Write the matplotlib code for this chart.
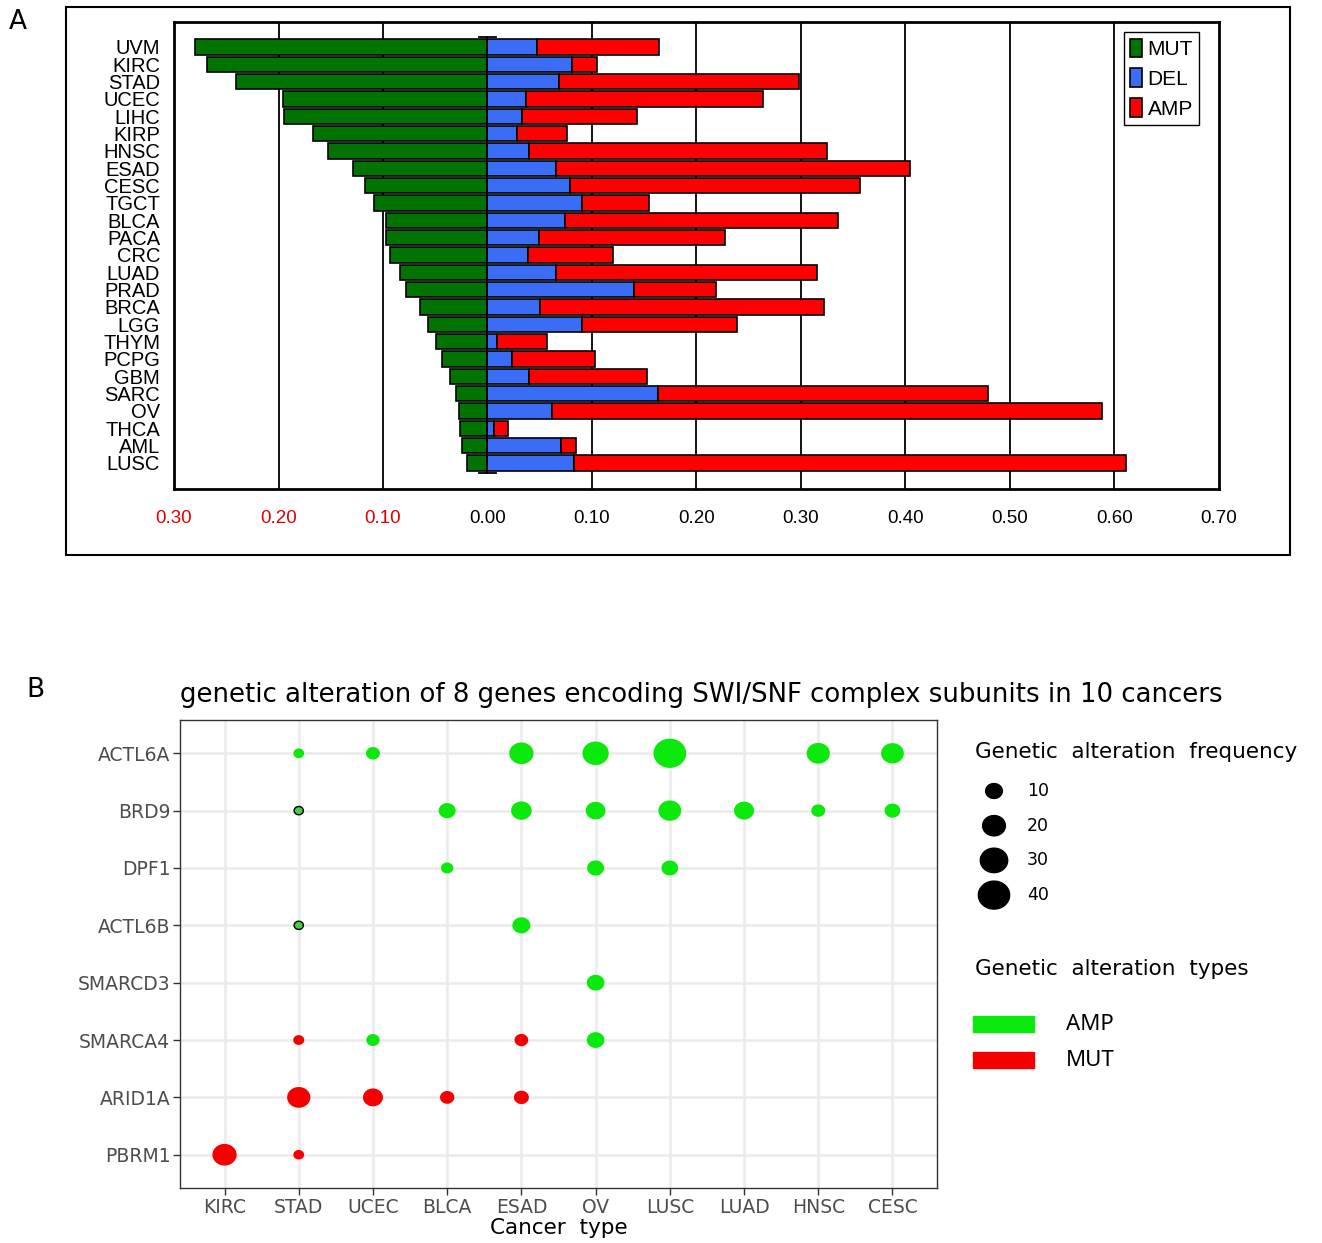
"""
Two-panel figure: SWI/SNF alteration frequencies per cancer type (A)
and bubble plot of 8 subunit genes across 10 cancers (B).
"""
import numpy as np
import matplotlib.pyplot as plt
from matplotlib.path import Path
from matplotlib.patches import Rectangle

plt.rcParams['font.family'] = ['Liberation Sans', 'DejaVu Sans']
WIDE = 'DejaVu Sans'  # panel B text is set in a wider face

# panel A: fraction of samples with mutation / deletion / amplification
cancers_a = ['UVM', 'KIRC', 'STAD', 'UCEC', 'LIHC', 'KIRP', 'HNSC', 'ESAD',
             'CESC', 'TGCT', 'BLCA', 'PACA', 'CRC', 'LUAD', 'PRAD', 'BRCA',
             'LGG', 'THYM', 'PCPG', 'GBM', 'SARC', 'OV', 'THCA', 'AML', 'LUSC']
mut = [0.280, 0.268, 0.241, 0.196, 0.195, 0.167, 0.153, 0.129, 0.117, 0.109,
       0.097, 0.097, 0.093, 0.084, 0.078, 0.065, 0.057, 0.049, 0.044, 0.036,
       0.030, 0.027, 0.026, 0.024, 0.020]
dele = [0.047, 0.081, 0.068, 0.037, 0.033, 0.028, 0.040, 0.066, 0.079, 0.090,
        0.074, 0.049, 0.039, 0.066, 0.140, 0.050, 0.090, 0.009, 0.023, 0.040,
        0.163, 0.062, 0.006, 0.070, 0.083]
amp = [0.117, 0.024, 0.230, 0.227, 0.110, 0.048, 0.285, 0.338, 0.277, 0.065,
       0.261, 0.178, 0.081, 0.249, 0.079, 0.272, 0.149, 0.048, 0.080, 0.113,
       0.316, 0.526, 0.014, 0.015, 0.528]
xticks_a = [-0.3, -0.2, -0.1, 0.0, 0.1, 0.2, 0.3, 0.4, 0.5, 0.6, 0.7]

# panel B: alteration frequency (%) for each gene / cancer pair
genes = ['ACTL6A', 'BRD9', 'DPF1', 'ACTL6B', 'SMARCD3', 'SMARCA4', 'ARID1A', 'PBRM1']
cancers_b = ['KIRC', 'STAD', 'UCEC', 'BLCA', 'ESAD', 'OV', 'LUSC', 'LUAD', 'HNSC', 'CESC']
pt_gene = ['ACTL6A'] * 7 + ['BRD9'] * 8 + ['DPF1'] * 3 + ['ACTL6B'] * 2 + ['SMARCD3'] \
    + ['SMARCA4'] * 4 + ['ARID1A'] * 4 + ['PBRM1'] * 2
pt_cancer = ['STAD', 'UCEC', 'ESAD', 'OV', 'LUSC', 'HNSC', 'CESC',
             'STAD', 'BLCA', 'ESAD', 'OV', 'LUSC', 'LUAD', 'HNSC', 'CESC',
             'BLCA', 'OV', 'LUSC',
             'STAD', 'ESAD',
             'OV',
             'STAD', 'UCEC', 'ESAD', 'OV',
             'STAD', 'UCEC', 'BLCA', 'ESAD',
             'KIRC', 'STAD']
pt_freq = [3.5, 6.6, 23.0, 27.5, 44.0, 21.0, 20.0,
           2.4, 10.4, 16.0, 14.5, 20.0, 15.0, 6.6, 8.7,
           4.9, 10.4, 10.0,
           2.4, 11.9,
           11.4,
           3.7, 5.9, 6.3, 11.4,
           21.0, 15.0, 7.0, 7.8,
           23.0, 3.5]
pt_type = ['AMP'] * 21 + ['MUT', 'AMP', 'MUT', 'AMP'] + ['MUT'] * 6
outlined = [('BRD9', 'STAD'), ('ACTL6B', 'STAD')]
size_breaks = [10, 20, 30, 40]
type_colors = {'AMP': '#0be80b', 'MUT': '#f50000'}


def dot_area(freq):
    """marker area (pt^2) for a frequency, diameter grows with sqrt"""
    px = 2.1 + 4.617 * np.sqrt(np.asarray(freq, dtype=float))
    return (px * 0.72) ** 2


# slightly wide ellipse marker
t = np.linspace(0, 2 * np.pi, 80)
ellipse = Path(np.column_stack([1.12 * np.cos(t), np.sin(t)]), closed=True)

fig = plt.figure(figsize=(13.22, 12.43), dpi=100)

# ---------------- panel A ----------------
ax = fig.add_axes([174 / 1322, 1 - 489 / 1243, 1045 / 1322, 467 / 1243])
y = np.arange(len(cancers_a))
ax.barh(y, -np.array(mut), height=0.88, color='#007300', edgecolor='black', lw=1.2,
        label='MUT', zorder=3)
ax.barh(y, dele, height=0.88, color='#3b6cf5', edgecolor='black', lw=1.2,
        label='DEL', zorder=3)
ax.barh(y, amp, left=dele, height=0.88, color='#ff0000', edgecolor='black', lw=1.2,
        label='AMP', zorder=3)
ax.plot([0, 0], [-0.55, len(y) - 0.45], color='black', lw=1.3, zorder=4)
ax.plot([-0.008, 0.008], [-0.55, -0.55], color='black', lw=1.3, zorder=4)
ax.plot([-0.008, 0.008], [len(y) - 0.45, len(y) - 0.45], color='black', lw=1.3, zorder=4)
for v in xticks_a[1:-1]:
    if v != 0:
        ax.axvline(v, color='black', lw=1.3, zorder=1)
ax.set_xlim(-0.3, 0.7)
ax.set_ylim(len(y) + 0.5, -1.44)
ax.set_yticks(y)
ax.set_yticklabels(cancers_a, fontsize=14.5)
ax.set_xticks(xticks_a)
ax.set_xticklabels([f'{abs(v):.2f}' for v in xticks_a], fontsize=13.5)
for lab, v in zip(ax.get_xticklabels(), xticks_a):
    if v < 0:
        lab.set_color('#e00000')
ax.tick_params(axis='x', length=0, pad=15)
ax.tick_params(axis='y', length=0, pad=10)
for sp in ax.spines.values():
    sp.set_linewidth(2)
ax.legend(loc='upper right', bbox_to_anchor=(0.981, 0.978), fontsize=15, frameon=True,
          fancybox=False, edgecolor='black', framealpha=1, handlelength=0.6,
          handleheight=1.0, handletextpad=0.25, labelspacing=0.45, borderpad=0.3,
          borderaxespad=0)

fig.add_artist(Rectangle((66 / 1322, 1 - 555 / 1243), 1224 / 1322, 548 / 1243,
                         transform=fig.transFigure, fill=False, ec='black', lw=1.5))
fig.text(18 / 1322, 1 - 22 / 1243, 'A', fontsize=19, va='center', ha='center',
         family='DejaVu Sans')
fig.text(35 / 1322, 1 - 690 / 1243, 'B', fontsize=19, va='center', ha='center',
         family='DejaVu Sans')

# ---------------- panel B ----------------
bx = fig.add_axes([180 / 1322, 1 - 1188 / 1243, 757 / 1322, 468 / 1243])
xi = [cancers_b.index(c) + 1 for c in pt_cancer]
yi = [genes.index(g) + 1 for g in pt_gene]
cols = [type_colors[k] for k in pt_type]
edges = ['black' if (g, c) in outlined else 'none' for g, c in zip(pt_gene, pt_cancer)]
fills = ['#3fd13f' if (g, c) in outlined else col
         for g, c, col in zip(pt_gene, pt_cancer, cols)]
bx.scatter(xi, yi, s=dot_area(pt_freq), marker=ellipse, c=fills, edgecolors=edges,
           linewidths=1.0, zorder=3)
bx.set_xlim(0.4, len(cancers_b) + 0.6)
bx.set_ylim(len(genes) + 0.58, 0.42)
bx.set_xticks(np.arange(1, len(cancers_b) + 1))
bx.set_xticklabels(cancers_b, fontsize=13.5, color='#4d4d4d', family=WIDE)
bx.set_yticks(np.arange(1, len(genes) + 1))
bx.set_yticklabels(genes, fontsize=13.5, color='#4d4d4d', family=WIDE)
bx.tick_params(length=5, width=1, color='#333333', pad=2)
bx.grid(True, color='#ebebeb', lw=1.8)
bx.set_axisbelow(True)
for sp in bx.spines.values():
    sp.set_color('#333333')
    sp.set_linewidth(1.0)
bx.set_xlabel('Cancer  type', fontsize=15.5, labelpad=1, family=WIDE)
bx.set_title('genetic alteration of 8 genes encoding SWI/SNF complex subunits in 10 cancers',
             fontsize=18.7, loc='left', pad=13, family=WIDE)

# legends for panel B drawn in figure pixel space
lg = fig.add_axes([0, 0, 1, 1])
lg.set_xlim(0, 1322)
lg.set_ylim(1243, 0)
lg.axis('off')
lg.text(975, 752, 'Genetic  alteration  frequency', fontsize=15.5, va='center',
        family=WIDE)
ys = 791 + 34.7 * np.arange(len(size_breaks))
lg.scatter([994] * len(size_breaks), ys, s=dot_area(size_breaks), marker=ellipse,
           c='black')
for yy, b in zip(ys, size_breaks):
    lg.text(1027, yy, str(b), fontsize=12.5, va='center', family=WIDE)
lg.text(975, 969, 'Genetic  alteration  types', fontsize=15.5, va='center', family=WIDE)
for name, yy in zip(['AMP', 'MUT'], [1024, 1060]):
    lg.add_patch(Rectangle((973, yy - 8), 61, 16, color=type_colors[name]))
    lg.text(1066, yy, name, fontsize=16, va='center', family='Noto Sans')

fig.savefig('out.png', dpi=100)
